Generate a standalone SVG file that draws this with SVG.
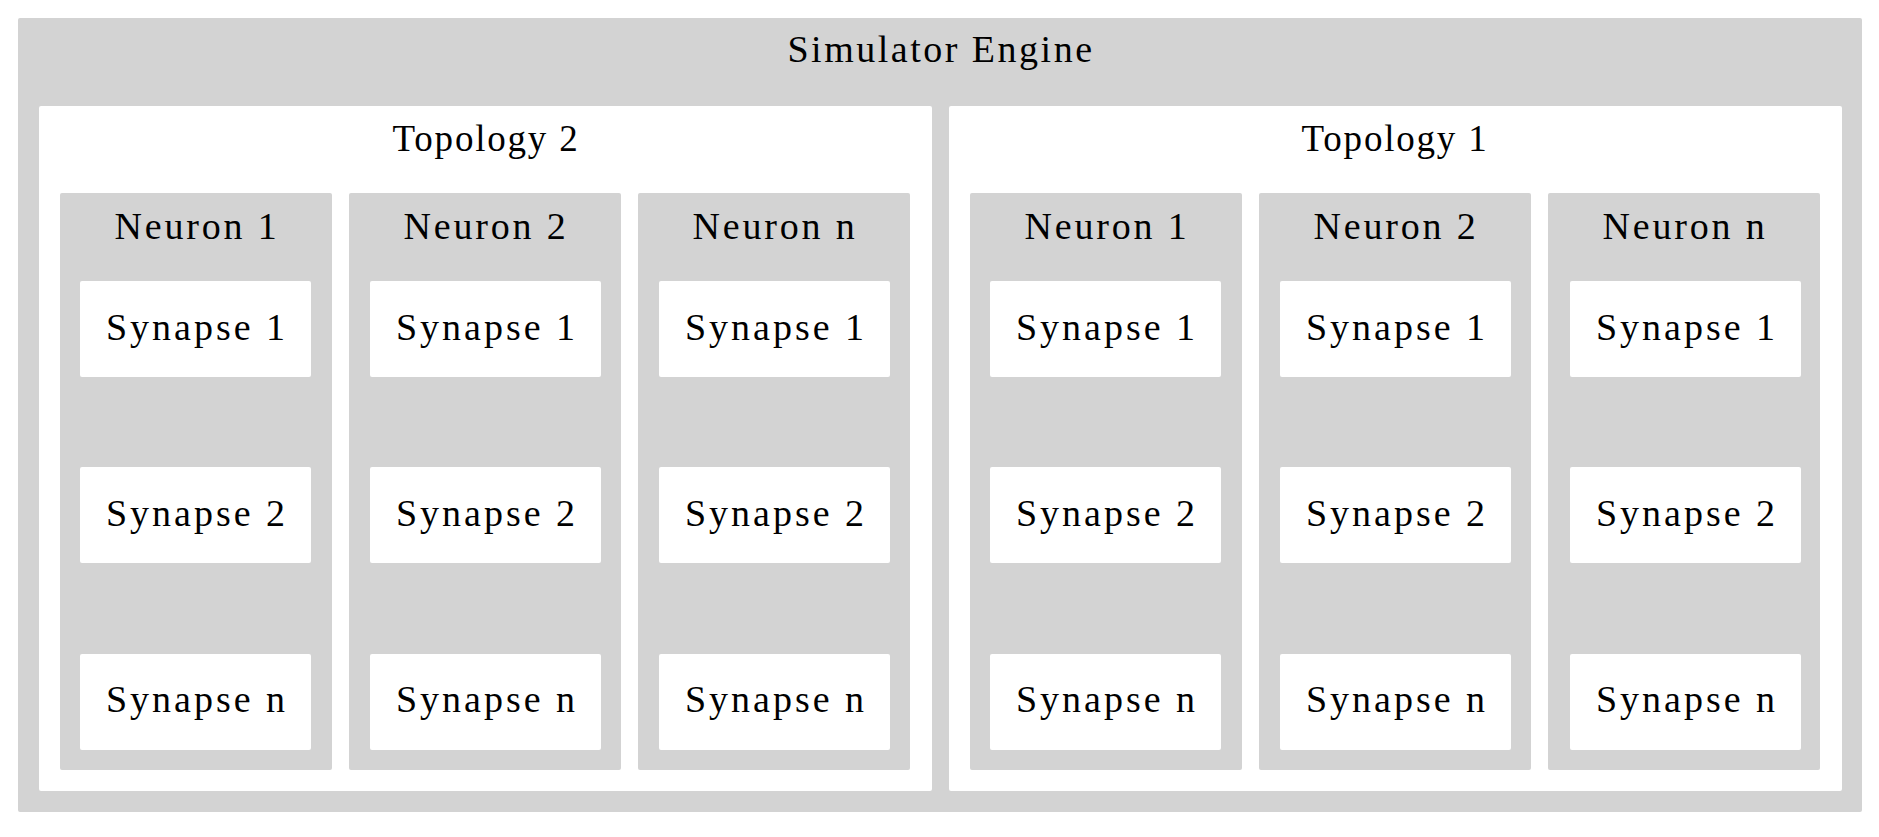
<svg xmlns="http://www.w3.org/2000/svg" width="1879" height="837" viewBox="0 0 1879 837">
<style>
.g{fill:#d3d3d3}
.w{fill:#ffffff}
text{font-family:"Liberation Serif","Times New Roman",serif;font-size:38px;letter-spacing:3px;fill:#000;text-anchor:middle}
.eng{letter-spacing:2.5px}
.top{font-size:37px;letter-spacing:1.8px}
.neu{letter-spacing:2.8px}
</style>
<rect width="1879" height="837" fill="#fff"/>
<g id="engine">
<rect class="g" x="18" y="18" width="1844" height="794" rx="2"/>
<text class="eng" x="941" y="62">Simulator Engine</text>
</g>
<g id="topology2">
<rect class="w" x="39" y="106" width="893" height="685" rx="2"/>
<text class="top" x="486" y="151">Topology 2</text>
</g>
<g id="topology1">
<rect class="w" x="949" y="106" width="893" height="685" rx="2"/>
<text class="top" x="1395" y="151">Topology 1</text>
</g>
<g id="t2n1"><rect class="g" x="60" y="193" width="272" height="577" rx="2"/><text class="neu" x="197" y="239">Neuron 1</text></g>
<g id="t2n2"><rect class="g" x="349" y="193" width="272" height="577" rx="2"/><text class="neu" x="486" y="239">Neuron 2</text></g>
<g id="t2nn"><rect class="g" x="638" y="193" width="272" height="577" rx="2"/><text class="neu" x="775" y="239">Neuron n</text></g>
<g id="t1n1"><rect class="g" x="970" y="193" width="272" height="577" rx="2"/><text class="neu" x="1107" y="239">Neuron 1</text></g>
<g id="t1n2"><rect class="g" x="1259" y="193" width="272" height="577" rx="2"/><text class="neu" x="1396" y="239">Neuron 2</text></g>
<g id="t1nn"><rect class="g" x="1548" y="193" width="272" height="577" rx="2"/><text class="neu" x="1685" y="239">Neuron n</text></g>
<g id="t2n1s1"><rect class="w" x="80" y="281" width="231" height="96" rx="2"/><text x="197" y="340">Synapse 1</text></g>
<g id="t2n1s2"><rect class="w" x="80" y="467" width="231" height="96" rx="2"/><text x="197" y="526">Synapse 2</text></g>
<g id="t2n1sn"><rect class="w" x="80" y="654" width="231" height="96" rx="2"/><text x="197" y="712">Synapse n</text></g>
<g id="t2n2s1"><rect class="w" x="370" y="281" width="231" height="96" rx="2"/><text x="487" y="340">Synapse 1</text></g>
<g id="t2n2s2"><rect class="w" x="370" y="467" width="231" height="96" rx="2"/><text x="487" y="526">Synapse 2</text></g>
<g id="t2n2sn"><rect class="w" x="370" y="654" width="231" height="96" rx="2"/><text x="487" y="712">Synapse n</text></g>
<g id="t2nns1"><rect class="w" x="659" y="281" width="231" height="96" rx="2"/><text x="776" y="340">Synapse 1</text></g>
<g id="t2nns2"><rect class="w" x="659" y="467" width="231" height="96" rx="2"/><text x="776" y="526">Synapse 2</text></g>
<g id="t2nnsn"><rect class="w" x="659" y="654" width="231" height="96" rx="2"/><text x="776" y="712">Synapse n</text></g>
<g id="t1n1s1"><rect class="w" x="990" y="281" width="231" height="96" rx="2"/><text x="1107" y="340">Synapse 1</text></g>
<g id="t1n1s2"><rect class="w" x="990" y="467" width="231" height="96" rx="2"/><text x="1107" y="526">Synapse 2</text></g>
<g id="t1n1sn"><rect class="w" x="990" y="654" width="231" height="96" rx="2"/><text x="1107" y="712">Synapse n</text></g>
<g id="t1n2s1"><rect class="w" x="1280" y="281" width="231" height="96" rx="2"/><text x="1397" y="340">Synapse 1</text></g>
<g id="t1n2s2"><rect class="w" x="1280" y="467" width="231" height="96" rx="2"/><text x="1397" y="526">Synapse 2</text></g>
<g id="t1n2sn"><rect class="w" x="1280" y="654" width="231" height="96" rx="2"/><text x="1397" y="712">Synapse n</text></g>
<g id="t1nns1"><rect class="w" x="1570" y="281" width="231" height="96" rx="2"/><text x="1687" y="340">Synapse 1</text></g>
<g id="t1nns2"><rect class="w" x="1570" y="467" width="231" height="96" rx="2"/><text x="1687" y="526">Synapse 2</text></g>
<g id="t1nnsn"><rect class="w" x="1570" y="654" width="231" height="96" rx="2"/><text x="1687" y="712">Synapse n</text></g>
<g id="connectors"></g>
</svg>
